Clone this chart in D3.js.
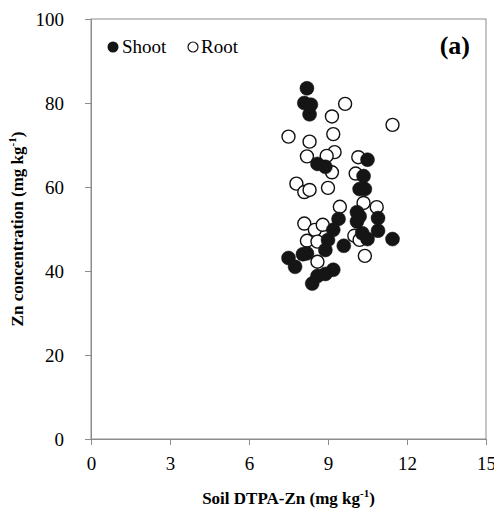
<!DOCTYPE html>
<html>
<head>
<meta charset="utf-8">
<script src="https://cdn.jsdelivr.net/npm/d3@7"></script>
<style>
  body { margin: 0; background: #fff; }
  svg text { font-family: "Liberation Serif", "Times New Roman", serif !important; fill: #000; }
</style>
</head>
<body>
<div id="chart"></div>
<script>
// Shoot Zn vs soil DTPA-Zn
const shootX = [8.2, 8.1, 8.35, 8.3, 8.6, 8.9, 10.5, 10.35, 10.4, 10.2, 10.1, 10.1, 10.9, 10.9, 11.45, 10.3, 10.5, 9.4, 9.2, 9.0, 9.6, 8.9, 8.2, 7.5, 7.75, 8.05, 9.2, 8.9, 8.6, 8.4, 10.2];
const shootY = [83.5, 80.0, 79.6, 77.3, 65.5, 64.8, 66.5, 62.6, 59.5, 59.5, 54.0, 51.8, 52.6, 49.6, 47.6, 49.0, 47.6, 52.4, 49.8, 47.4, 46.0, 45.0, 44.2, 43.1, 41.0, 44.0, 40.3, 39.3, 38.8, 37.0, 53.0];

// Root Zn vs soil DTPA-Zn
const rootX = [9.65, 9.15, 11.45, 7.5, 8.3, 9.2, 9.25, 8.95, 8.2, 10.15, 10.05, 9.15, 7.8, 8.1, 8.3, 9.0, 9.45, 10.35, 10.85, 8.1, 8.5, 8.8, 8.2, 8.6, 10.0, 10.4, 8.6, 10.2];
const rootY = [79.8, 76.8, 74.8, 72.0, 70.8, 72.6, 68.3, 67.4, 67.3, 67.1, 63.2, 63.5, 60.8, 58.8, 59.3, 59.8, 55.3, 56.2, 55.2, 51.3, 49.8, 51.0, 47.2, 47.0, 48.4, 43.6, 42.2, 47.4];

const xTicks = [0, 3, 6, 9, 12, 15];
const yTicks = [0, 20, 40, 60, 80, 100];

const width = 494, height = 517;
const margin = { left: 91, right: 8, top: 19, bottom: 78 };
const serif = "'Liberation Serif', 'Times New Roman', serif";

const svg = d3.select("#chart").append("svg")
  .attr("width", width)
  .attr("height", height);

const x = d3.scaleLinear().domain([0, 15]).range([margin.left, width - margin.right]);
const y = d3.scaleLinear().domain([0, 100]).range([height - margin.bottom, margin.top]);

// frame
svg.append("rect")
  .attr("x", x(0)).attr("y", y(100))
  .attr("width", x(15) - x(0)).attr("height", y(0) - y(100))
  .attr("fill", "none").attr("stroke", "#8c8c8c").attr("stroke-width", 1);

// axes
const xAxis = svg.append("g")
  .attr("transform", `translate(0,${y(0)})`)
  .call(d3.axisBottom(x).tickValues(xTicks).tickSize(6).tickPadding(12));
const yAxis = svg.append("g")
  .attr("transform", `translate(${x(0)},0)`)
  .call(d3.axisLeft(y).tickValues(yTicks).tickSize(6).tickPadding(21));

[xAxis, yAxis].forEach(a => {
  a.attr("font-family", null);
  a.select(".domain").attr("stroke", "#8c8c8c");
  a.selectAll(".tick line").attr("stroke", "#8c8c8c");
  a.selectAll(".tick text").style("font-size", "19px").style("font-family", serif);
});

// points: roots first, shoots on top
const rootData = rootX.map((v, i) => [v, rootY[i]]);
const shootData = shootX.map((v, i) => [v, shootY[i]]);

svg.append("g").selectAll("circle")
  .data(rootData).enter().append("circle")
  .attr("cx", d => x(d[0])).attr("cy", d => y(d[1]))
  .attr("r", 6.5)
  .attr("fill", "#fff").attr("stroke", "#111").attr("stroke-width", 1.4);

svg.append("g").selectAll("circle")
  .data(shootData).enter().append("circle")
  .attr("cx", d => x(d[0])).attr("cy", d => y(d[1]))
  .attr("r", 7)
  .attr("fill", "#151515").attr("stroke", "#151515").attr("stroke-width", 0.5);

// legend
svg.append("circle").attr("cx", 113).attr("cy", 47).attr("r", 5.5).attr("fill", "#151515");
svg.append("text").attr("x", 122).attr("y", 53).style("font-size", "19px").style("font-family", serif).text("Shoot");
svg.append("circle").attr("cx", 193).attr("cy", 47).attr("r", 5).attr("fill", "#fff")
  .attr("stroke", "#111").attr("stroke-width", 1.2);
svg.append("text").attr("x", 201).attr("y", 53).style("font-size", "19px").style("font-family", serif).text("Root");

svg.append("text").attr("x", 470).attr("y", 54).attr("text-anchor", "end")
  .style("font-size", "26px").style("font-weight", "bold").style("font-family", serif).text("(a)");

// axis titles
const xt = svg.append("text").attr("x", (x(0) + x(15)) / 2).attr("y", 504)
  .attr("text-anchor", "middle").style("font-size", "17px").style("font-weight", "bold").style("font-family", serif);
xt.append("tspan").text("Soil DTPA-Zn (mg kg");
xt.append("tspan").attr("dy", -7).style("font-size", "11px").text("-1");
xt.append("tspan").attr("dy", 7).text(")");

const yt = svg.append("text")
  .attr("transform", `translate(23,${(y(0) + y(100)) / 2}) rotate(-90)`)
  .attr("text-anchor", "middle").style("font-size", "17px").style("font-weight", "bold").style("font-family", serif);
yt.append("tspan").text("Zn concentration (mg kg");
yt.append("tspan").attr("dy", -7).style("font-size", "11px").text("-1");
yt.append("tspan").attr("dy", 7).text(")");
</script>
</body>
</html>
